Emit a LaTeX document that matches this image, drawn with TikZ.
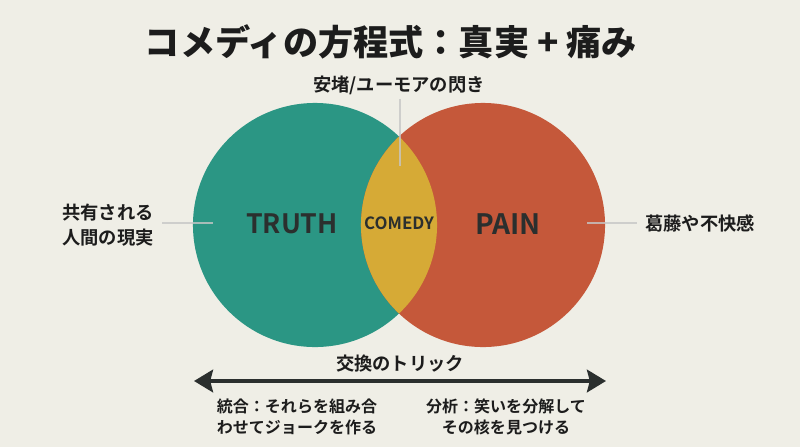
\documentclass[tikz,border=0pt]{standalone}
\usepackage{fontspec}
\setmainfont{Noto Sans CJK JP}[BoldFont={Noto Sans CJK JP Bold}]
\newfontfamily\heavyfont{Noto Sans CJK JP Black}
\usetikzlibrary{arrows.meta}
\usetikzlibrary{positioning}
\usepackage{xcolor}

\definecolor{bgcol}{HTML}{EFEEE6}
\definecolor{truthcol}{HTML}{2B9684}
\definecolor{paincol}{HTML}{C5583A}
\definecolor{comedycol}{HTML}{D6AA36}
\definecolor{inkcol}{HTML}{1C1C1C}
\definecolor{darkcol}{HTML}{2B2F2E}

\begin{document}
\begin{tikzpicture}[x=0.025cm, y=-0.025cm]
  \tikzstyle{annot} = [font=\bfseries\fontsize{13}{18}\selectfont, text=inkcol, align=center, inner sep=0pt]
  \tikzstyle{small} = [font=\bfseries\fontsize{11.4}{14.5}\selectfont, text=inkcol, align=center, inner sep=0pt]
  \tikzstyle{big} = [font=\bfseries\fontsize{19}{22}\selectfont, text=darkcol, inner sep=0pt]
  \tikzstyle{set} = [circle, minimum size=6.1cm, inner sep=0pt]
  \tikzstyle{pointer} = [draw=white!55!gray, line width=1pt, opacity=0.8]

  \useasboundingbox[fill=bgcol] (0,0) rectangle (800,447);

  \node[font=\heavyfont\fontsize{25}{30}\selectfont, text=inkcol, inner sep=0pt] (title) at (391,42)
    {コメディの方程式：真実 + 痛み};

  % the two sets and their overlap
  \node[set, fill=truthcol] (truth) at (315,225) {};
  \node[set, fill=paincol] (pain) at (483,225) {};
  \begin{scope}
    \clip (truth.center) circle (3.05cm);
    \fill[comedycol] (pain.center) circle (3.05cm);
  \end{scope}

  \node[big] (truthlabel) at (292,224) {TRUTH};
  \node[big, font=\bfseries\fontsize{20}{22}\selectfont] (painlabel) at (508,224) {PAIN};
  \node[big, font=\bfseries\fontsize{12}{14}\selectfont] (comedylabel) at (399,223) {COMEDY};

  % side notes
  \node[annot] (relief) at (399,85) {安堵/ユーモアの閃き};
  \node[annot] (shared) at (108,225) {共有される\\人間の現実};
  \node[annot, anchor=west] (conflict) at (645,224) {葛藤や不快感};

  \coordinate (reliefend) at (400,166);
  \coordinate (sharedend) at (213,223);
  \coordinate (conflictend) at (587,223);
  \draw[pointer] ([yshift=-3pt]relief.south -| reliefend) -- (reliefend);
  \draw[pointer] ([xshift=6pt]shared.east |- sharedend) -- (sharedend);
  \draw[pointer] ([xshift=-6pt]conflict.west |- conflictend) -- (conflictend);

  % the trade-off arrow
  \node[annot] (trick) at (400,364) {交換のトリック};
  \coordinate (leftend) at (194,381);
  \coordinate (rightend) at (606,381);
  \draw[darkcol, line width=3.5pt, {Stealth[length=13.5pt, width=16pt, inset=2pt]}-{Stealth[length=13.5pt, width=16pt, inset=2pt]}]
    (leftend) -- (rightend);

  \node[small] (combine) at (297,417) {統合：それらを組み合\\わせてジョークを作る};
  \node[small] (analyze) at (506,417) {分析：笑いを分解して\\その核を見つける};

\end{tikzpicture}
\end{document}
